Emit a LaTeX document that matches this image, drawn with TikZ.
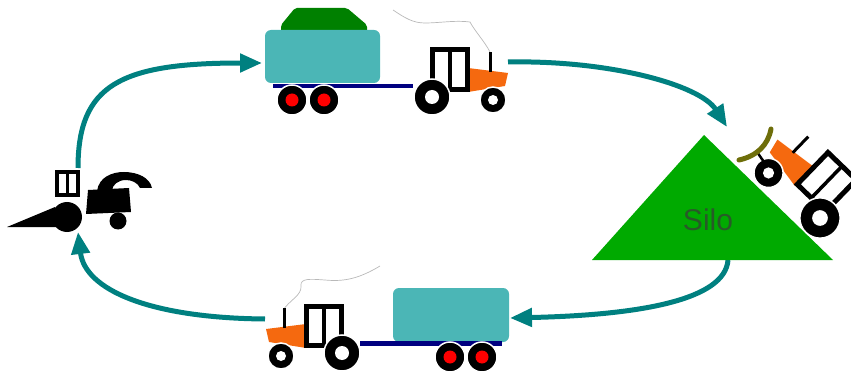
\documentclass[tikz,border=0pt]{standalone}
\usepackage{fontspec}
\setmainfont{Liberation Sans}
\usetikzlibrary{arrows.meta}

\definecolor{flowteal}{RGB}{0,128,128}
\definecolor{tankcyan}{RGB}{75,182,182}
\definecolor{loadgreen}{RGB}{0,128,0}
\definecolor{pilegreen}{RGB}{0,170,0}
\definecolor{labelgreen}{RGB}{40,90,40}
\definecolor{hoodorange}{RGB}{245,105,15}
\definecolor{barnavy}{RGB}{0,0,128}
\definecolor{bladeolive}{RGB}{110,110,10}
\definecolor{smokegray}{RGB}{185,185,185}

\tikzset{
  flow/.style={draw=flowteal, line width=5pt,
    -{Triangle[length=22pt,width=18pt]}},
  tank/.style={fill=tankcyan, rounded corners=6pt},
  drawbar/.style={fill=barnavy},
  smoke/.style={draw=smokegray, line width=0.7pt},
  tyre/.style={fill=black, draw=white, line width=1.5pt},
  silotext/.style={font=\fontsize{30}{36}\selectfont, text=labelgreen,
    anchor=base, inner sep=0pt},
  % tractor facing right, origin at the centre of the rear wheel
  tractor/.pic={
    \fill[hoodorange] (36,-29) -- (76,-24) -- (73,-11) -- (36,-5) -- cycle;
    \draw[line width=3pt] (58,-25) -- (58,-45);
    \fill[white] (0.5,-47) rectangle (35.5,-7.5);
    \draw[line width=5pt] (0.5,-47) rectangle (35.5,-7.5);
    \draw[line width=3.5pt] (18,-47) -- (18,-7.5);
    \draw[tyre] (0,0) circle (18);
    \fill[white] (0,0) circle (7);
    \draw[tyre] (61,3) circle (13);
    \fill[white] (61,3) circle (5);
  },
  % trailer wheel pair
  wheelpair/.pic={
    \draw[tyre] (0,0) circle (15);
    \fill[red] (0,0) circle (6.5);
    \draw[tyre] (32,0) circle (15);
    \fill[red] (32,0) circle (6.5);
  }
}

\begin{document}
\begin{tikzpicture}[x=1pt,y=-1pt]
\useasboundingbox (0,0) rectangle (851,374);

% anchor points of the cycle
\coordinate (harvTop) at (78,168);
\coordinate (harvBottom) at (78,232);
\coordinate (fullTankIn) at (262,63);
\coordinate (fullTractorOut) at (508,62);
\coordinate (siloIn) at (727,127);
\coordinate (siloOut) at (728,260);
\coordinate (emptyTankIn) at (510,318);
\coordinate (emptyTractorOut) at (265,319);

% cycle arrows
\draw[flow] (harvTop) .. controls (78,85) and (120,63) .. (fullTankIn);
\draw[flow] (fullTractorOut) .. controls (610,60) and (700,85) .. (siloIn);
\draw[flow] (siloOut) .. controls (725,300) and (640,315) .. (emptyTankIn);
\draw[flow] (emptyTractorOut) .. controls (150,318) and (85,290) .. (harvBottom);

% forage harvester
\fill (7,227) -- (55,207) -- (57,227) -- cycle;
\draw[line width=4pt] (57,172) rectangle (78,195);
\draw[line width=3pt] (67.5,172) -- (67.5,195);
\fill (67,217) circle (15);
\fill (88,190) -- (129,188) -- (131,212) -- (86,214) -- cycle;
\fill (97,191) .. controls (99,177) and (112,172) .. (124,172)
  .. controls (138,172) and (150,178) .. (152,188) -- (140,188)
  .. controls (138,183) and (132,180) .. (126,180)
  .. controls (118,180) and (112,185) .. (112,191) -- cycle;
\fill (118,221) circle (8.5);

% loaded trailer and tractor, top
\fill[loadgreen, rounded corners=2pt] (295,8) -- (347,8) -- (367,25) -- (367,32)
  -- (281,32) -- (281,25) -- cycle;
\fill[tank] (265,30) rectangle (380,83);
\fill[drawbar] (273,84) rectangle (413,88);
\pic at (292,100) {wheelpair};
\draw[smoke] (393,10) .. controls (405,18) and (413,23) .. (425,23)
  .. controls (440,23) and (455,20) .. (470,22)
  .. controls (474,30) and (485,42) .. (490,52);
\pic at (432,97) {tractor};

% silo heap
\fill[pilegreen] (704,135) -- (833,260) -- (592,260) -- cycle;
\node[silotext] (silo) at (708,230) {Silo};

% tractor with front blade pushing up the heap
\begin{scope}[shift={(820,218)}, rotate=-44, xscale=-1, scale=1.12]
  \pic[transform shape] {tractor};
\end{scope}
\draw[line width=2.5pt] (757,152) -- (764,162);
\draw[bladeolive, line width=5pt, line cap=round]
  (739,160) .. controls (757,156) and (768,145) .. (771,129);

% empty trailer and tractor, bottom
\fill[tank] (393,288) rectangle (509,342);
\fill[drawbar] (360,341) rectangle (502,346);
\pic at (450,357) {wheelpair};
\draw[smoke] (380,266) .. controls (360,278) and (345,282) .. (325,280)
  .. controls (310,279) and (300,278) .. (301,286)
  .. controls (302,295) and (290,300) .. (283,310);
\begin{scope}[shift={(342,353)}, xscale=-1]
  \pic[transform shape] {tractor};
\end{scope}

\end{tikzpicture}
\end{document}
